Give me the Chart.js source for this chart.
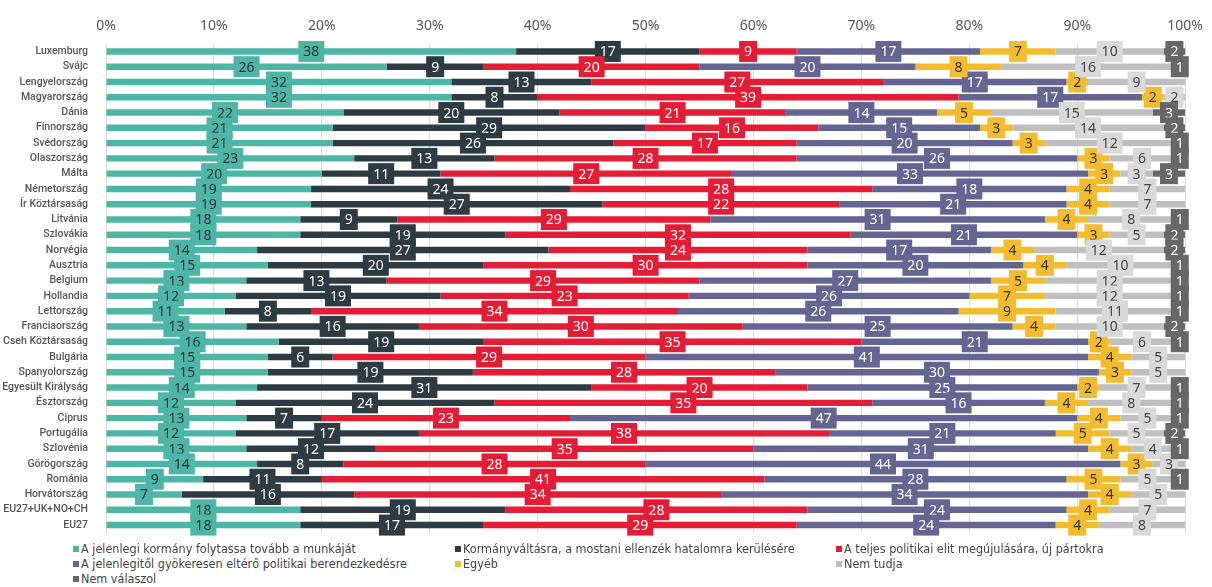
<!DOCTYPE html>
<html>
<head>
<meta charset="utf-8">
<script src="https://cdn.jsdelivr.net/npm/chart.js@4"></script>
<style>
  body { margin: 0; background: #fff; }
  #wrap { position: relative; width: 1212px; height: 587px; }
  #chart { position: absolute; left: 0; top: 0; }
  .legend { position: absolute; font-family: "Liberation Sans Narrow", "DejaVu Sans Condensed", sans-serif; font-size: 12.5px; color: #444; white-space: nowrap; }
  .legend span { display: inline-block; width: 6px; height: 6px; margin-right: 2px; vertical-align: 1px; }
</style>
</head>
<body>
<div id="wrap">
  <canvas id="chart" width="1212" height="549"></canvas>
  <div id="legend"></div>
</div>
<script>
const countries = [
  'Luxemburg', 'Svájc', 'Lengyelország', 'Magyarország', 'Dánia', 'Finnország',
  'Svédország', 'Olaszország', 'Málta', 'Németország', 'Ír Köztársaság', 'Litvánia',
  'Szlovákia', 'Norvégia', 'Ausztria', 'Belgium', 'Hollandia', 'Lettország',
  'Franciaország', 'Cseh Köztársaság', 'Bulgária', 'Spanyolország', 'Egyesült Királyság',
  'Észtország', 'Ciprus', 'Portugália', 'Szlovénia', 'Görögország', 'Románia',
  'Horvátország', 'EU27+UK+NO+CH', 'EU27'
];

const seriesNames = [
  'A jelenlegi kormány folytassa tovább a munkáját',
  'Kormányváltásra, a mostani ellenzék hatalomra kerülésére',
  'A teljes politikai elit megújulására, új pártokra',
  'A jelenlegitől gyökeresen eltérő politikai berendezkedésre',
  'Egyéb',
  'Nem tudja',
  'Nem válaszol'
];

const kormany =    [38, 26, 32, 32, 22, 21, 21, 23, 20, 19, 19, 18, 18, 14, 15, 13, 12, 11, 13, 16, 15, 15, 14, 12, 13, 12, 13, 14, 9, 7, 18, 18];
const valtas =     [17, 9, 13, 8, 20, 29, 26, 13, 11, 24, 27, 9, 19, 27, 20, 13, 19, 8, 16, 19, 6, 19, 31, 24, 7, 17, 12, 8, 11, 16, 19, 17];
const megujulas =  [9, 20, 27, 39, 21, 16, 17, 28, 27, 28, 22, 29, 32, 24, 30, 29, 23, 34, 30, 35, 29, 28, 20, 35, 23, 38, 35, 28, 41, 34, 28, 29];
const gyokeres =   [17, 20, 17, 17, 14, 15, 20, 26, 33, 18, 21, 31, 21, 17, 20, 27, 26, 26, 25, 21, 41, 30, 25, 16, 47, 21, 31, 44, 28, 34, 24, 24];
const egyeb =      [7, 8, 2, 2, 5, 3, 3, 3, 3, 4, 4, 4, 3, 4, 4, 5, 7, 9, 4, 2, 4, 3, 2, 4, 4, 5, 4, 3, 5, 4, 4, 4];
const nemTudja =   [10, 16, 9, 2, 15, 14, 12, 6, 3, 7, 7, 8, 5, 12, 10, 12, 12, 11, 10, 6, 5, 5, 7, 8, 5, 5, 4, 3, 5, 5, 7, 8];
const nemValaszol = [2, 1, 0, 0, 3, 2, 1, 1, 3, 0, 0, 1, 2, 2, 1, 1, 1, 1, 2, 1, 0, 0, 1, 1, 1, 2, 1, 0, 1, 0, 0, 0];

const xTicks = [0, 10, 20, 30, 40, 50, 60, 70, 80, 90, 100];

const barColors = ['#4db6a6', '#2c3b44', '#e31d36', '#646592', '#f2bc2e', '#bfbfbf', '#676767'];
const boxColors = ['#4db6a6', '#2c3b44', '#e31d36', '#646592', '#f2bc2e', '#d9d9d9', '#676767'];
const textColors = ['#333', '#fff', '#fff', '#fff', '#333', '#444', '#fff'];

const allSeries = [kormany, valtas, megujulas, gyokeres, egyeb, nemTudja, nemValaszol];

// boxed value labels in the middle of each segment
const boxLabels = {
  id: 'boxLabels',
  afterDatasetsDraw(chart) {
    const ctx = chart.ctx;
    ctx.save();
    ctx.font = '14px "Noto Sans", sans-serif';
    ctx.textAlign = 'center';
    ctx.textBaseline = 'middle';
    chart.data.datasets.forEach((ds, i) => {
      const meta = chart.getDatasetMeta(i);
      meta.data.forEach((bar, j) => {
        const v = ds.data[j];
        if (!v) return;
        const cx = (bar.x + bar.base) / 2;
        const cy = bar.y;
        const w = ctx.measureText(String(v)).width + 10;
        const h = 21;
        ctx.fillStyle = boxColors[i];
        ctx.fillRect(cx - w / 2, cy - h / 2, w, h);
        ctx.fillStyle = textColors[i];
        ctx.fillText(String(v), cx, cy + 1);
      });
    });
    ctx.restore();
  }
};

new Chart(document.getElementById('chart'), {
  type: 'bar',
  data: {
    labels: countries,
    datasets: allSeries.map((d, i) => ({
      label: seriesNames[i],
      data: d,
      backgroundColor: barColors[i],
      borderWidth: 0,
      barPercentage: 0.42,
      categoryPercentage: 1
    }))
  },
  options: {
    indexAxis: 'y',
    responsive: false,
    animation: false,
    layout: { padding: { top: 9, right: 26, bottom: 3, left: 0 } },
    plugins: {
      legend: { display: false },
      tooltip: { enabled: false }
    },
    scales: {
      x: {
        stacked: true,
        position: 'top',
        min: 0,
        max: 100,
        afterBuildTicks: s => { s.ticks = xTicks.map(v => ({ value: v })); },
        ticks: {
          callback: v => v + '%',
          color: '#555',
          font: { family: '"Noto Sans", sans-serif', size: 14 },
          padding: 9
        },
        grid: { color: '#d9d9d9', drawTicks: false },
        border: { display: false }
      },
      y: {
        stacked: true,
        afterFit: s => { s.width = 106; },
        ticks: {
          autoSkip: false,
          color: '#555',
          font: { family: 'Roboto, sans-serif', size: 10.5, weight: 500 },
          padding: 10
        },
        grid: { display: false },
        border: { display: false }
      }
    }
  },
  plugins: [boxLabels]
});

// legend in three columns under the chart
const legendPos = [
  [73, 541], [455, 541], [836, 541],
  [73, 556], [455, 556], [836, 556],
  [73, 571]
];
const legendEl = document.getElementById('legend');
seriesNames.forEach((name, i) => {
  const d = document.createElement('div');
  d.className = 'legend';
  d.style.left = legendPos[i][0] + 'px';
  d.style.top = legendPos[i][1] + 'px';
  d.innerHTML = '<span style="background:' + barColors[i] + '"></span>' + name;
  legendEl.appendChild(d);
});
</script>
</body>
</html>
